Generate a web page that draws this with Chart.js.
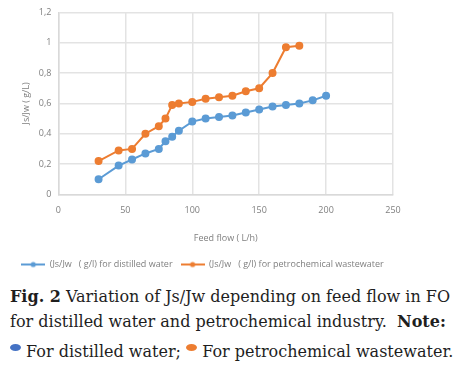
<!DOCTYPE html>
<html>
<head>
<meta charset="utf-8">
<script src="https://cdn.jsdelivr.net/npm/chart.js@4"></script>
<style>
  body { margin: 0; background: #fff; width: 472px; height: 366px; overflow: hidden; }
  #wrap { position: relative; width: 472px; height: 279px; }
  .cap { font-family: "DejaVu Serif", serif; font-size: 16px; color: #1e1e1e; margin: 0 0 0 10px; line-height: 25px; white-space: nowrap; }
  .dot { display: inline-block; width: 11px; height: 7px; border-radius: 50%; vertical-align: 6px; }
</style>
</head>
<body>
<div id="wrap"><canvas id="canvas"></canvas></div>
<p class="cap" style="margin-top:5px"><b>Fig. 2</b> Variation of Js/Jw depending on feed flow in FO<br>for distilled water and petrochemical industry.&nbsp;&nbsp;<b>Note:</b></p>
<p class="cap" style="margin-top:5px"><span class="dot" style="background:#4472c4"></span> For distilled water; <span class="dot" style="background:#ed7d31"></span> For petrochemical wastewater.</p>
<script>
// values
let flowDistilled = [30, 45, 55, 65, 75, 80, 85, 90, 100, 110, 120, 130, 140, 150, 160, 170, 180, 190, 200];
let ratioDistilled = [0.10, 0.19, 0.23, 0.27, 0.30, 0.35, 0.38, 0.42, 0.48, 0.50, 0.51, 0.52, 0.54, 0.56, 0.58, 0.59, 0.60, 0.62, 0.65];

let flowPetro = [30, 45, 55, 65, 75, 80, 85, 90, 100, 110, 120, 130, 140, 150, 160, 170, 180];
let ratioPetro = [0.22, 0.29, 0.30, 0.40, 0.45, 0.50, 0.59, 0.60, 0.61, 0.63, 0.64, 0.65, 0.68, 0.70, 0.80, 0.97, 0.98];

let labelDistilled = '(Js/Jw   ( g/l) for distilled water';
let labelPetro = '(Js/Jw   ( g/l) for petrochemical wastewater';

function pairs(xs, ys) {
  return xs.map((x, i) => ({ x: x, y: ys[i] }));
}

// little line-with-marker swatch for the legend, like the Excel one
function swatch(color) {
  let c = document.createElement('canvas');
  c.width = 24; c.height = 8;
  let g = c.getContext('2d');
  g.strokeStyle = color; g.lineWidth = 2;
  g.beginPath(); g.moveTo(0, 4); g.lineTo(24, 4); g.stroke();
  g.fillStyle = color;
  g.beginPath(); g.arc(12, 4, 2.6, 0, Math.PI * 2); g.fill();
  return c;
}

let tickFont = { family: 'Open Sans', size: 9 };
let grey = '#7f7f7f';

let options = {
  type: 'line',
  data: {
    datasets: [{
      label: labelDistilled,
      data: pairs(flowDistilled, ratioDistilled),
      borderColor: '#5b9bd5',
      backgroundColor: '#5b9bd5',
      borderWidth: 2,
      pointRadius: 3,
      pointHoverRadius: 3
    }, {
      label: labelPetro,
      data: pairs(flowPetro, ratioPetro),
      borderColor: '#ed7d31',
      backgroundColor: '#ed7d31',
      borderWidth: 2,
      pointRadius: 3,
      pointHoverRadius: 3
    }]
  },
  options: {
    responsive: true,
    maintainAspectRatio: false,
    animation: false,
    layout: { padding: { top: 4, right: 79, left: 12, bottom: 0 } },
    scales: {
      x: {
        type: 'linear',
        min: 0, max: 250,
        ticks: { stepSize: 50, color: grey, font: tickFont, padding: 11 },
        grid: { color: '#e3e3e3', lineWidth: 1.5, drawTicks: false },
        border: { color: '#d9d9d9', width: 1.5 },
        title: { display: true, text: 'Feed flow ( L/h)', color: grey, font: tickFont, padding: { top: 6, bottom: 8 } }
      },
      y: {
        min: 0, max: 1.2,
        ticks: {
          stepSize: 0.2, color: grey, font: tickFont, padding: 7,
          callback: v => String(Math.round(v * 10) / 10).replace('.', ',')
        },
        grid: { color: '#e3e3e3', lineWidth: 1.5, drawTicks: false },
        border: { color: '#d9d9d9', width: 1.5 },
        title: { display: true, text: 'Js/Jw ( g/L)', color: grey, font: tickFont, padding: { top: 9, bottom: 0 } }
      }
    },
    plugins: {
      legend: {
        position: 'bottom',
        labels: {
          color: grey,
          font: { family: 'Open Sans', size: 9 },
          usePointStyle: true,
          boxHeight: 8,
          pointStyleWidth: 24,
          padding: 8,
          generateLabels: chart => {
            let items = Chart.defaults.plugins.legend.labels.generateLabels(chart);
            items.forEach(it => { it.pointStyle = swatch(chart.data.datasets[it.datasetIndex].borderColor); });
            return items;
          }
        }
      },
      tooltip: { enabled: false }
    }
  }
};

let chart = new Chart(document.getElementById('canvas'), options);
</script>
</body>
</html>
